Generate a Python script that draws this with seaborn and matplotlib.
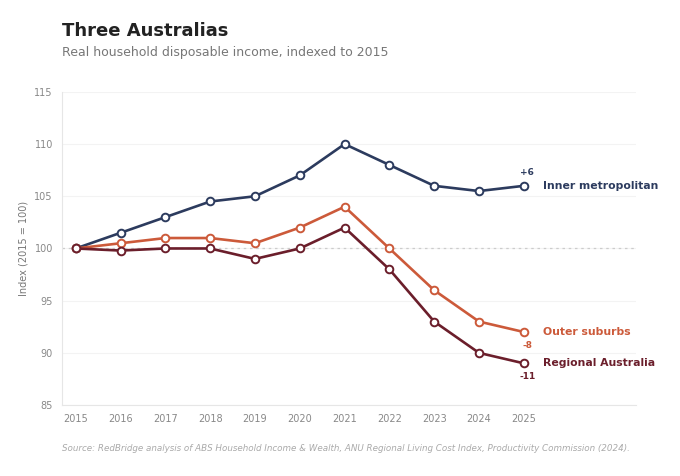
import seaborn as sns
import pandas as pd
import matplotlib.pyplot as plt

years = list(range(2015, 2026))
inner_metro = [100, 101.5, 103, 104.5, 105, 107, 110, 108, 106, 105.5, 106]
outer_suburbs = [100, 100.5, 101, 101, 100.5, 102, 104, 100, 96, 93, 92]
regional = [100, 99.8, 100, 100, 99, 100, 102, 98, 93, 90, 89]

series_names = ["Inner metropolitan", "Outer suburbs", "Regional Australia"]
change_labels = ["+6", "-8", "-11"]
colors = ["#2c3b5e", "#cc5a3a", "#6b1e2b"]

rows = []
for name, vals in zip(series_names, [inner_metro, outer_suburbs, regional]):
    for y, v in zip(years, vals):
        rows.append({"year": y, "index": v, "region": name})
df = pd.DataFrame(rows)

sns.set_theme()
sns.set_style("white")
plt.rcParams["font.family"] = ["DejaVu Sans"]

fig, ax = plt.subplots(figsize=(6.8, 4.76), dpi=100)
fig.subplots_adjust(left=0.091, right=0.935, top=0.807, bottom=0.149)

ax.axhline(100, color="#cccccc", linestyle=(0, (2, 3)), linewidth=0.9, zorder=1)
for yv in range(85, 116, 5):
    ax.axhline(yv, color="#f3f3f3", linewidth=0.8, zorder=0)

sns.lineplot(
    data=df, x="year", y="index", hue="region", palette=colors,
    marker="o", markersize=5.5, markerfacecolor="white", markeredgewidth=1.4,
    linewidth=1.9, legend=False, ax=ax, zorder=3,
)
# marker edges follow the line colour
for line, c in zip(ax.get_lines()[-3:], colors):
    line.set_markeredgecolor(c)

ax.set_xlim(2014.69, 2027.5)
ax.set_ylim(85, 115)
ax.set_xticks(years)
ax.set_yticks(range(85, 116, 5))
ax.tick_params(axis="both", labelsize=7, colors="#888888", length=3, width=0.6)
ax.set_xlabel("")
ax.set_ylabel("Index (2015 = 100)", fontsize=7, color="#777777")
for s in ["top", "right"]:
    ax.spines[s].set_visible(False)
for s in ["left", "bottom"]:
    ax.spines[s].set_color("#e6e6e6")
    ax.spines[s].set_linewidth(0.8)

last = [inner_metro[-1], outer_suburbs[-1], regional[-1]]
offsets = [1.3, -1.25, -1.25]
for name, val, lab, c, off in zip(series_names, last, change_labels, colors, offsets):
    ax.text(2025.42, val, name, color=c, fontsize=7.8, fontweight="bold",
            va="center", ha="left")
    ax.text(2025.08, val + off, lab, color=c, fontsize=6.5, fontweight="bold",
            va="center", ha="center")

fig.text(0.091, 0.935, "Three Australias", fontsize=13, fontweight="bold",
         color="#222222", va="center")
fig.text(0.091, 0.89, "Real household disposable income, indexed to 2015",
         fontsize=9, color="#777777", va="center")
fig.text(0.091, 0.057,
         "Source: RedBridge analysis of ABS Household Income & Wealth, ANU Regional "
         "Living Cost Index, Productivity Commission (2024).",
         fontsize=6.3, style="italic", color="#aaaaaa", va="center")

plt.savefig("out.png", dpi=100)
